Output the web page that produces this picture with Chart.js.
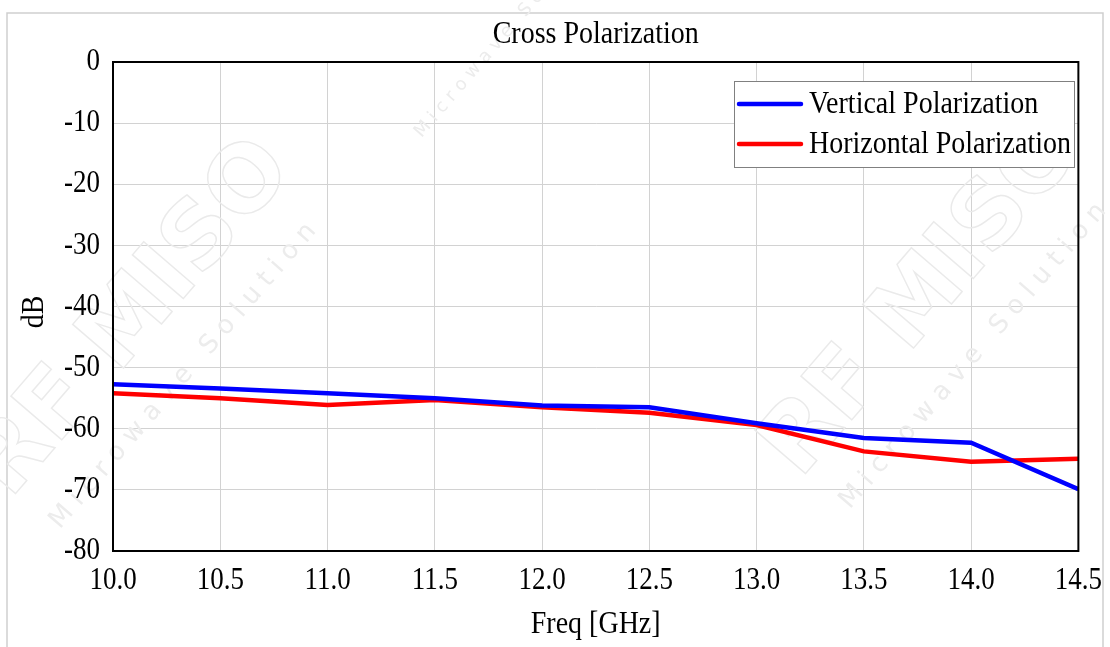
<!DOCTYPE html>
<html>
<head>
<meta charset="utf-8">
<script src="https://cdn.jsdelivr.net/npm/chart.js@4.4.1/dist/chart.umd.min.js"></script>
<style>
html,body{margin:0;padding:0;background:#fff;}
#wrap{width:1110px;height:647px;position:relative;}
</style>
</head>
<body>
<div id="wrap"><canvas id="c" width="1110" height="647"></canvas></div>
<script>
const freqs = [10.0, 10.5, 11.0, 11.5, 12.0, 12.5, 13.0, 13.5, 14.0, 14.5];
const verticalPol = [-52.7, -53.4, -54.2, -55.0, -56.2, -56.5, -59.1, -61.5, -62.3, -69.9];
const horizontalPol = [-54.2, -55.0, -56.1, -55.3, -56.5, -57.4, -59.4, -63.7, -65.4, -64.9];
const seriesNames = ['Vertical Polarization', 'Horizontal Polarization'];
const chartTitle = 'Cross Polarization';
const xTitle = 'Freq [GHz]';
const yTitle = 'dB';

const FONT = "'Liberation Serif', 'Times New Roman', serif";
const STRETCH = 1.15;

const pts = arr => freqs.map((f, i) => ({x: f, y: arr[i]}));

function sText(ctx, str, x, y, size, align, rot) {
  ctx.save();
  ctx.translate(x, y);
  if (rot) ctx.rotate(rot);
  ctx.scale(1, STRETCH);
  ctx.font = size + "px " + FONT;
  ctx.fillStyle = '#000';
  ctx.textAlign = align;
  ctx.textBaseline = 'middle';
  ctx.fillText(str, 0, 0);
  ctx.restore();
}

function watermark(ctx, x, y, ang, big, small) {
  ctx.save();
  ctx.translate(x, y);
  ctx.rotate(ang);
  ctx.strokeStyle = '#eaeaea';
  ctx.lineWidth = 1.4;
  if (big) {
    ctx.font = "bold " + big + "px 'DejaVu Sans', sans-serif";
    ctx.textBaseline = 'alphabetic';
    ctx.strokeText('RF MISO', 0, 0);
  }
  ctx.fillStyle = '#ececec';
  ctx.font = small + "px 'DejaVu Sans', sans-serif";
  ctx.fillText('M i c r o w a v e   S o l u t i o n', 10, small * 2.2);
  ctx.restore();
}

const framePlugin = {
  id: 'frame',
  beforeDraw(chart) {
    const ctx = chart.ctx;
    ctx.save();
    ctx.fillStyle = '#fff';
    ctx.fillRect(0, 0, chart.width, chart.height);
    ctx.strokeStyle = '#cfcfcf';
    ctx.lineWidth = 1.5;
    ctx.beginPath();
    ctx.moveTo(7, 660); ctx.lineTo(7, 13); ctx.lineTo(1103, 13); ctx.lineTo(1103, 660);
    ctx.stroke();
    ctx.restore();
  },
  beforeDatasetsDraw(chart) {
    const ctx = chart.ctx;
    watermark(ctx, 10, 500, -0.86, 92, 26);
    watermark(ctx, 800, 480, -0.86, 92, 26);
    watermark(ctx, 385, 120, -0.86, 0, 18);
  },
  afterDatasetsDraw(chart) {
    const ctx = chart.ctx;
    const a = chart.chartArea;
    ctx.save();
    ctx.strokeStyle = '#000';
    ctx.lineWidth = 2;
    ctx.strokeRect(a.left, a.top, a.right - a.left, a.bottom - a.top);
    ctx.restore();

    const xs = chart.scales.x, ys = chart.scales.y;
    xs.ticks.forEach(t => {
      sText(ctx, Number(t.value).toFixed(1), xs.getPixelForValue(t.value), a.bottom + 30, 27, 'center');
    });
    ys.ticks.forEach(t => {
      sText(ctx, String(t.value), a.left - 13, ys.getPixelForValue(t.value), 27, 'right');
    });
    sText(ctx, chartTitle, (a.left + a.right) / 2, 35, 28, 'center');
    sText(ctx, xTitle, (a.left + a.right) / 2, 625, 28, 'center');
    sText(ctx, yTitle, 35, 312, 28, 'center', -Math.PI / 2);

    ctx.save();
    const bx = 734, by = 81, bw = 340, bh = 86;
    ctx.fillStyle = '#fff';
    ctx.fillRect(bx, by, bw, bh);
    ctx.strokeStyle = '#808080';
    ctx.lineWidth = 1;
    ctx.strokeRect(bx + 0.5, by + 0.5, bw, bh);
    const rows = [104, 144];
    chart.data.datasets.forEach((ds, i) => {
      const y = rows[i];
      ctx.strokeStyle = ds.borderColor;
      ctx.lineWidth = 4.5;
      ctx.lineCap = 'round';
      ctx.beginPath();
      ctx.moveTo(739, y); ctx.lineTo(801, y);
      ctx.stroke();
      sText(ctx, ds.label, 809, y + 1, 28, 'left');
    });
    ctx.restore();
  }
};

new Chart(document.getElementById('c'), {
  type: 'line',
  data: {
    datasets: [
      {label: seriesNames[0], data: pts(verticalPol), borderColor: '#0000ff', borderWidth: 4.5, pointRadius: 0, tension: 0, fill: false},
      {label: seriesNames[1], data: pts(horizontalPol), borderColor: '#ff0000', borderWidth: 4.5, pointRadius: 0, tension: 0, fill: false}
    ]
  },
  options: {
    responsive: false,
    animation: false,
    layout: {padding: {left: 10, top: 62, right: 31, bottom: 0}},
    plugins: {
      legend: {display: false},
      title: {display: false},
      tooltip: {enabled: false}
    },
    scales: {
      x: {
        type: 'linear',
        min: 10, max: 14.5,
        afterFit: s => { s.height = 96; },
        ticks: {
          stepSize: 0.5,
          color: 'rgba(0,0,0,0)',
          font: {family: FONT, size: 27},
          padding: 8,
          maxRotation: 0,
          autoSkip: false,
          callback: v => Number(v).toFixed(1)
        },
        grid: {color: '#d2d2d2', lineWidth: 1, drawTicks: false},
        border: {color: '#000', width: 2},
        title: {display: false, text: xTitle}
      },
      y: {
        min: -80, max: 0,
        afterFit: s => { s.width = 103; },
        ticks: {
          stepSize: 10,
          color: 'rgba(0,0,0,0)',
          font: {family: FONT, size: 27},
          padding: 12
        },
        grid: {color: '#d2d2d2', lineWidth: 1, drawTicks: false},
        border: {color: '#000', width: 2},
        title: {display: false, text: yTitle}
      }
    }
  },
  plugins: [framePlugin]
});
</script>
</body>
</html>
